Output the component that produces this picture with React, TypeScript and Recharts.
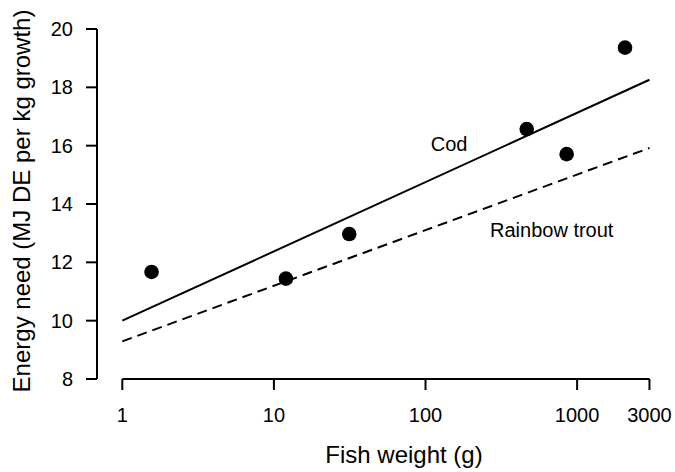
import {
  ComposedChart,
  Line,
  Scatter,
  XAxis,
  YAxis,
  ReferenceLine,
  ReferenceDot,
  Label,
} from 'recharts'

// observed fish (weight g, MJ DE per kg growth)
const fishWeight = [1.56, 12, 31.4, 465, 853, 2070]
const energyNeed = [11.67, 11.44, 12.97, 16.57, 15.71, 19.36]

// fitted lines, end points only
const lineX = [1, 3000]
const codY = [10.0, 18.26]
const troutY = [9.29, 15.92]

const xTicks = [1, 10, 100, 1000, 3000]
const yTicks = [8, 10, 12, 14, 16, 18, 20]

const points = fishWeight.map((x, i) => ({ x, y: energyNeed[i] }))
const codLine = lineX.map((x, i) => ({ x, y: codY[i] }))
const troutLine = lineX.map((x, i) => ({ x, y: troutY[i] }))

const font = '"Liberation Sans", Arial, sans-serif'

const Dot = (props: any) => (
  <circle cx={props.cx} cy={props.cy} r={7.3} fill="#000" />
)

export default function App() {
  return (
    <div style={{ position: 'absolute', left: 0, top: 0, background: '#fff' }}>
      <ComposedChart
        width={675}
        height={472}
        margin={{ top: 29, right: 1, bottom: 0, left: 0 }}
        style={{ fontFamily: font }}
      >
        <XAxis
          type="number"
          dataKey="x"
          scale="log"
          domain={[0.681, 4355]}
          allowDataOverflow
          ticks={xTicks}
          height={93}
          axisLine={false}
          tickLine={{ stroke: '#000', strokeWidth: 2 }}
          tickSize={11}
          tickMargin={18}
          tick={{ fill: '#000', fontSize: 20 }}
        >
          <Label
            content={({ viewBox }: any) => (
              <text
                x={viewBox.x + viewBox.width / 2 + 18.5}
                y={viewBox.y + 84}
                textAnchor="middle"
                fontSize={24}
                fill="#000"
              >
                Fish weight (g)
              </text>
            )}
          />
        </XAxis>
        <YAxis
          type="number"
          dataKey="y"
          domain={[8, 20]}
          ticks={yTicks}
          width={97}
          axisLine={{ stroke: '#000', strokeWidth: 2 }}
          tickLine={{ stroke: '#000', strokeWidth: 2 }}
          tickSize={11}
          tickMargin={13}
          tick={{ fill: '#000', fontSize: 20 }}
        >
          <Label
            content={({ viewBox }: any) => {
              const cx = viewBox.x + 29.5
              const cy = viewBox.y + viewBox.height / 2 - 3
              return (
                <text
                  x={cx}
                  y={cy}
                  transform={`rotate(-90, ${cx}, ${cy})`}
                  textAnchor="middle"
                  fontSize={24}
                  fill="#000"
                >
                  Energy need (MJ DE per kg growth)
                </text>
              )
            }}
          />
        </YAxis>

        <ReferenceLine
          segment={[
            { x: xTicks[0], y: yTicks[0] },
            { x: xTicks[xTicks.length - 1], y: yTicks[0] },
          ]}
          stroke="#000"
          strokeWidth={2}
          ifOverflow="visible"
        />

        <Line
          data={codLine}
          dataKey="y"
          stroke="#000"
          strokeWidth={2}
          dot={false}
          activeDot={false}
          isAnimationActive={false}
        />
        <Line
          data={troutLine}
          dataKey="y"
          stroke="#000"
          strokeWidth={2}
          strokeDasharray="10 6"
          dot={false}
          activeDot={false}
          isAnimationActive={false}
        />
        <Scatter data={points} dataKey="y" shape={Dot} isAnimationActive={false} />

        <ReferenceDot x={143} y={16.07} r={0} stroke="none" ifOverflow="visible">
          <Label value="Cod" position="center" fontSize={20} fill="#000" />
        </ReferenceDot>
        <ReferenceDot x={680} y={13.12} r={0} stroke="none" ifOverflow="visible">
          <Label value="Rainbow trout" position="center" fontSize={20} fill="#000" />
        </ReferenceDot>
      </ComposedChart>
    </div>
  )
}
